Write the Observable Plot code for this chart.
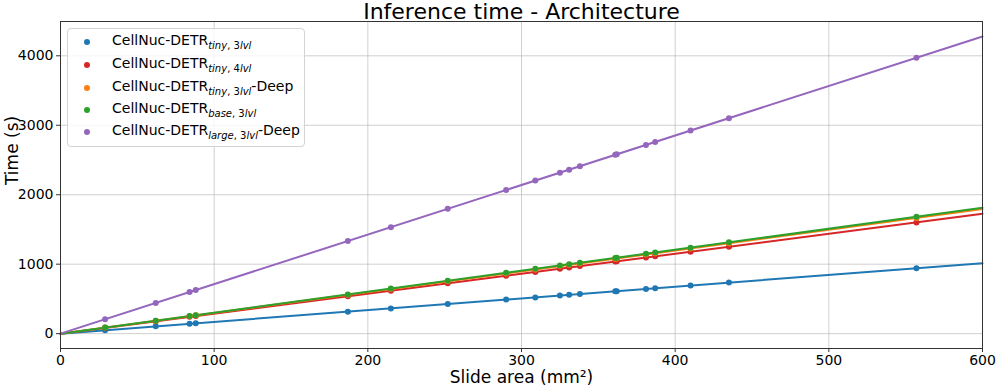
<!DOCTYPE html>
<html><head><meta charset="utf-8">
<script src="https://cdn.jsdelivr.net/npm/d3@7"></script>
<script src="https://cdn.jsdelivr.net/npm/@observablehq/plot@0.6"></script>
<style>
body{margin:0;background:#fff;font-family:"DejaVu Sans",sans-serif;}
#wrap{position:relative;width:996px;height:388px;overflow:hidden;}
#legend{position:absolute;left:67px;top:28px;width:238px;height:119px;border:1px solid #d3d3d3;border-radius:4px;background:rgba(255,255,255,0.8);box-sizing:border-box;font-size:14px;color:#000;}
.row{position:absolute;left:0;width:100%;height:22px;line-height:22px;white-space:nowrap;}
.dot{position:absolute;left:16px;top:8px;width:6px;height:6px;border-radius:50%;}
.lab{position:absolute;left:44px;top:-2px;}
.lab sub{font-size:10px;vertical-align:-4px;line-height:0;}
</style>
</head><body>
<div id="wrap"><div id="chart"></div><div id="legend"></div></div>
<script>
// Slide areas (mm^2) of the evaluated slides
const areas = [29, 62, 84, 88, 187, 215, 252, 290, 309, 325, 331, 338, 361, 362, 381, 387, 410, 435, 557];
// Inference times (s) per architecture
const timeTiny3 = [49, 105, 142, 149, 316, 363, 426, 490, 522, 549, 559, 571, 610, 612, 644, 654, 693, 735, 941];
const timeTiny4 = [83, 178, 242, 253, 538, 618, 725, 834, 888, 934, 952, 972, 1038, 1041, 1095, 1113, 1179, 1251, 1601];
const timeTiny3Deep = [87, 185, 251, 263, 559, 643, 753, 867, 924, 972, 990, 1011, 1079, 1082, 1139, 1157, 1226, 1301, 1665];
const timeBase3 = [88, 187, 254, 266, 565, 649, 761, 876, 933, 982, 1000, 1021, 1090, 1093, 1151, 1169, 1238, 1314, 1682];
const timeLarge3Deep = [207, 442, 599, 627, 1333, 1533, 1797, 2068, 2203, 2317, 2360, 2410, 2574, 2581, 2717, 2759, 2923, 3102, 3971];
// Linear fit slopes (s per mm^2), fitted lines drawn over the x range
const fitSlopes = [1.69, 2.875, 2.99, 3.02, 7.13];
const fitRange = [0, 600];
const seriesKeys = ["tiny3", "tiny4", "tiny3deep", "base3", "large3deep"];
const seriesLabels = [
  "CellNuc-DETR<sub><i>tiny</i>, 3<i>lvl</i></sub>",
  "CellNuc-DETR<sub><i>tiny</i>, 4<i>lvl</i></sub>",
  "CellNuc-DETR<sub><i>tiny</i>, 3<i>lvl</i></sub>-Deep",
  "CellNuc-DETR<sub><i>base</i>, 3<i>lvl</i></sub>",
  "CellNuc-DETR<sub><i>large</i>, 3<i>lvl</i></sub>-Deep"
];
const seriesColors = ["#1f77b4", "#d62728", "#ff7f0e", "#2ca02c", "#9467bd"];
const xTicks = [0, 100, 200, 300, 400, 500, 600];
const yTicks = [0, 1000, 2000, 3000, 4000];

const allTimes = [timeTiny3, timeTiny4, timeTiny3Deep, timeBase3, timeLarge3Deep];
const points = [];
allTimes.forEach((arr, s) => arr.forEach((t, i) => points.push({series: seriesKeys[s], area: areas[i], time: t})));
const fits = [];
fitSlopes.forEach((k, s) => fitRange.forEach(a => fits.push({series: seriesKeys[s], area: a, time: k * a})));

const font = "DejaVu Sans";
const fmt = d => String(d);
const chart = Plot.plot({
  width: 996, height: 388,
  marginLeft: 60, marginRight: 14, marginTop: 21, marginBottom: 40,
  style: {fontFamily: font, fontSize: "14px", background: "#fff", color: "#000"},
  x: {domain: [0, 600]},
  y: {domain: [-214, 4494]},
  color: {domain: seriesKeys, range: seriesColors},
  marks: [
    Plot.gridX(xTicks, {stroke: "#b0b0b0", strokeOpacity: 0.6, strokeWidth: 1}),
    Plot.gridY(yTicks, {stroke: "#b0b0b0", strokeOpacity: 0.6, strokeWidth: 1}),
    Plot.line(fits, {x: "area", y: "time", z: "series", stroke: "series", strokeWidth: 2}),
    Plot.dot(points, {x: "area", y: "time", fill: "series", r: 3}),
    Plot.frame({stroke: "#333", strokeWidth: 1}),
    Plot.axisX(xTicks, {tickSize: 4, tickPadding: 3, label: null, fontSize: 14, stroke: "#333", tickFormat: fmt}),
    Plot.axisY(yTicks, {tickSize: 4, tickPadding: 3, label: null, fontSize: 14, stroke: "#333", tickFormat: fmt}),
    Plot.text(["Inference time - Architecture"], {frameAnchor: "top", lineAnchor: "middle", dy: -10, fontSize: 22, fill: "#000"}),
    Plot.text(["Slide area (mm²)"], {frameAnchor: "bottom", lineAnchor: "middle", dy: 29, fontSize: 17, fill: "#000"}),
    Plot.text(["Time (s)"], {frameAnchor: "left", dx: -48, rotate: -90, fontSize: 17, fill: "#000"})
  ]
});
document.getElementById("chart").appendChild(chart);

const legend = document.getElementById("legend");
const rowTops = [2, 25, 48, 70, 92];
seriesLabels.forEach((lab, i) => {
  const row = document.createElement("div");
  row.className = "row";
  row.style.top = rowTops[i] + "px";
  row.innerHTML = `<span class="dot" style="background:${seriesColors[i]}"></span><span class="lab">${lab}</span>`;
  legend.appendChild(row);
});
</script>
</body></html>
